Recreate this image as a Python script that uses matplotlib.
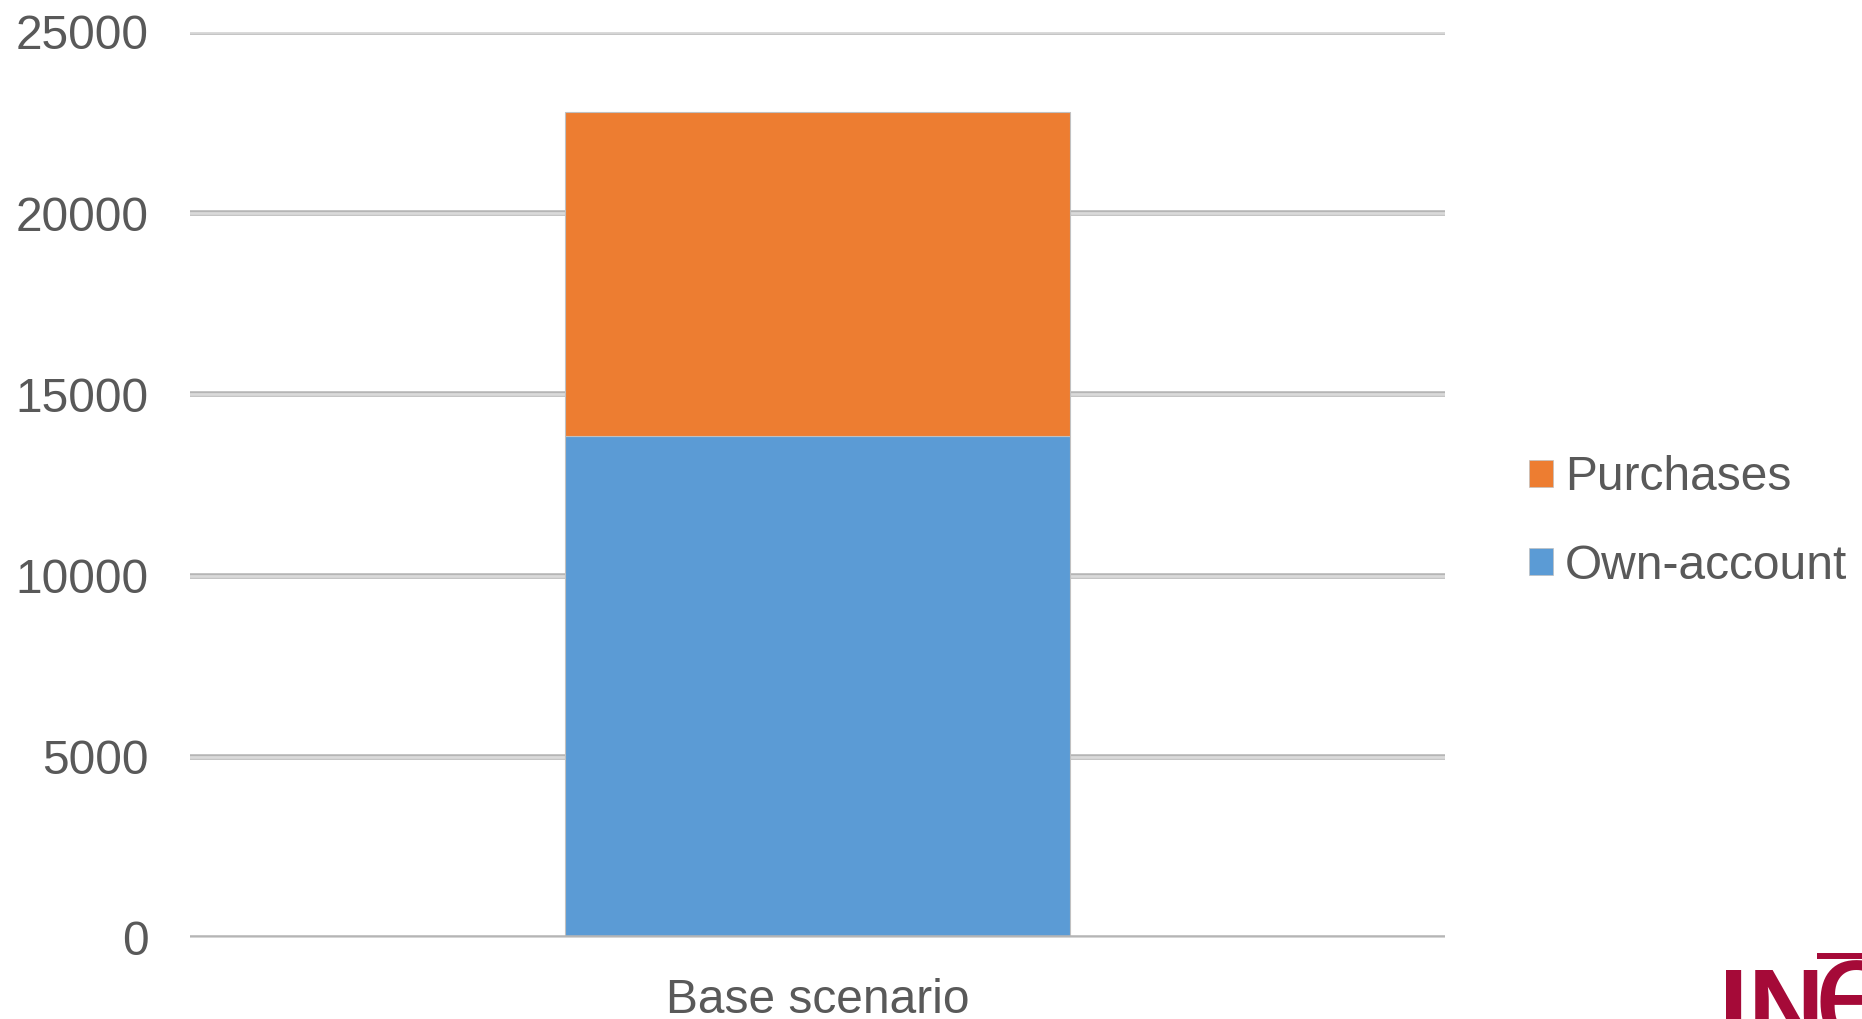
import matplotlib.pyplot as plt
import matplotlib.patheffects as pe
from matplotlib.patches import Patch
from matplotlib.lines import Line2D

# Stacked single-bar chart: own-account vs purchases
categories = ['Base scenario']
own_account = [13850]
purchases = [8940]
y_ticks = [0, 5000, 10000, 15000, 20000, 25000]

text_color = '#595959'
blue = '#5B9BD5'
orange = '#ED7D31'
logo_red = '#a50a38'
fs = 34.5

plt.rcParams['font.family'] = ['Liberation Sans', 'DejaVu Sans']

fig = plt.figure(figsize=(18.62, 10.19), dpi=100)
ax = fig.add_axes([0.102, 0.0795, 0.674, 0.8891])

# Grid lines with a soft outlined look
for y in y_ticks:
    ax.axhline(y, color='#dadada', lw=2.0, solid_capstyle='round',
               zorder=3 if y == 0 else 1,
               path_effects=[pe.Stroke(linewidth=4.0, foreground='#b5b5b5'), pe.Normal()])

x = range(len(categories))
ax.bar(x, own_account, width=0.402, color=blue, edgecolor='#c0c0c0', linewidth=0.8, zorder=2)
ax.bar(x, purchases, bottom=own_account, width=0.402, color=orange,
       edgecolor='#c0c0c0', linewidth=0.8, zorder=2)

ax.set_xlim(-0.5, 0.5)
ax.set_ylim(0, 25000)
ax.set_yticks(y_ticks)
ax.set_yticklabels([str(v) for v in y_ticks])
ax.set_xticks(list(x))
ax.set_xticklabels(categories)
ax.tick_params(axis='y', length=0, pad=30, labelsize=fs, labelcolor=text_color)
ax.tick_params(axis='x', length=0, pad=29, labelsize=fs, labelcolor=text_color)
for s in ax.spines.values():
    s.set_visible(False)

handles = [Patch(facecolor=orange, edgecolor='#c0c0c0', linewidth=0.5, label='Purchases'),
           Patch(facecolor=blue, edgecolor='#c0c0c0', linewidth=0.5, label='Own-account')]
leg = fig.legend(handles=handles, loc='upper left', bbox_to_anchor=(0.821, 0.553),
                 frameon=False, fontsize=fs, handlelength=0.5, handleheight=0.5,
                 handletextpad=0.26, labelspacing=0.9, borderpad=0, borderaxespad=0)
for t in leg.get_texts():
    t.set_color(text_color)

# INE logo fragment in the bottom-right corner (clipped by the figure edge)
fig.text(0.9232, -0.0236, 'IN', color=logo_red, fontsize=76, fontweight='bold',
         ha='left', va='baseline')
fig.text(0.9742, -0.0236, 'e', color=logo_red, fontsize=110,
         ha='left', va='baseline')
fig.add_artist(Line2D([1817 / 1862, 1.0], [0.0618, 0.0618], color=logo_red,
                      lw=4.3, solid_capstyle='butt'))

fig.savefig('out.png', dpi=100)
